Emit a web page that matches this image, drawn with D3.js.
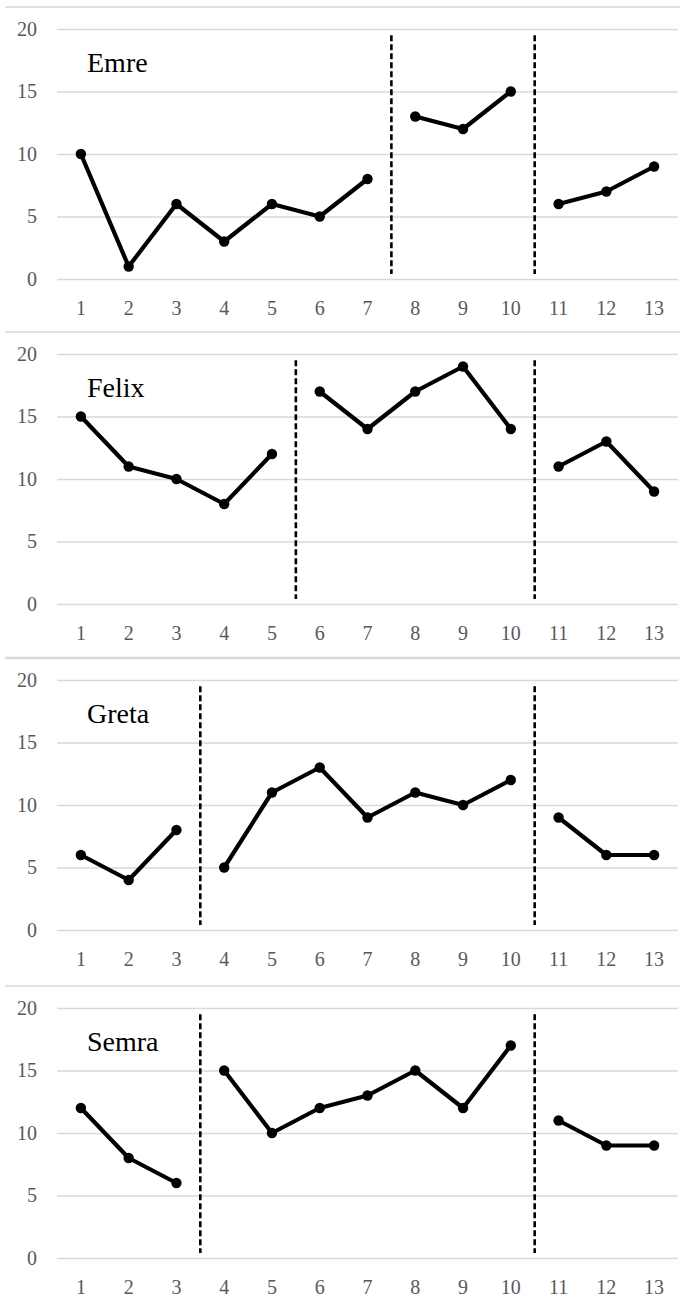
<!DOCTYPE html>
<html>
<head>
<meta charset="utf-8">
<script src="https://cdn.jsdelivr.net/npm/d3@7"></script>
</head>
<body style="margin:0;background:#fff">
<svg id="chart" width="682" height="1299" style="display:block"></svg>
<script>
// ---- data ----
const sessions = ["1","2","3","4","5","6","7","8","9","10","11","12","13"];
const names = ["Emre", "Felix", "Greta", "Semra"];
const emre  = [10, 1, 6, 3, 6, 5, 8, 13, 12, 15, 6, 7, 9];
const felix = [15, 11, 10, 8, 12, 17, 14, 17, 19, 14, 11, 13, 9];
const greta = [6, 4, 8, 5, 11, 13, 9, 11, 10, 12, 9, 6, 6];
const semra = [12, 8, 6, 15, 10, 12, 13, 15, 12, 17, 11, 9, 9];
// last session of each phase before a phase-change line
const emreBreaks  = [7, 10];
const felixBreaks = [5, 10];
const gretaBreaks = [3, 10];
const semraBreaks = [3, 10];
const yTicks = [0, 5, 10, 15, 20];

const seriesList = [emre, felix, greta, semra];
const breaksList = [emreBreaks, felixBreaks, gretaBreaks, semraBreaks];

// ---- layout ----
const svg = d3.select("#chart");
const panelTops = [7, 332, 658, 986];
const gridColor = "#d9d9d9";
const tickColor = "#595959";
const SERIF = '"Liberation Serif"';

const x = d3.scaleBand().domain(sessions).range([57, 678]).padding(0);

// panel separator lines
panelTops.forEach((t, i) => {
  svg.append("line")
    .attr("x1", 5).attr("x2", 680)
    .attr("y1", t).attr("y2", t)
    .attr("stroke", gridColor)
    .attr("stroke-width", i === 2 ? 2.5 : 1.5);
});

names.forEach((name, i) => {
  const top = panelTops[i];
  const y = d3.scaleLinear().domain([0, 20]).range([top + 272, top + 22]);
  const g = svg.append("g");
  const vals = seriesList[i];
  const breaks = breaksList[i];

  // gridlines + y labels
  const yAxis = d3.axisLeft(y).tickValues(yTicks).tickSize(-(678 - 57)).tickPadding(20);
  const ya = g.append("g").attr("transform", "translate(57,0)").call(yAxis)
    .attr("font-family", SERIF).attr("font-size", 20);
  ya.select(".domain").remove();
  ya.selectAll(".tick line").attr("stroke", gridColor).attr("stroke-width", 1.3);
  ya.selectAll(".tick text").attr("fill", tickColor);

  // x labels
  const xAxis = d3.axisBottom(x).tickSize(0).tickPadding(22);
  const xa = g.append("g").attr("transform", `translate(0,${y(0)})`).call(xAxis)
    .attr("font-family", SERIF).attr("font-size", 20);
  xa.select(".domain").remove();
  xa.selectAll(".tick text").attr("fill", tickColor);

  // phase-change lines
  breaks.forEach(b => {
    const bx = x(String(b)) + x.bandwidth();
    g.append("line")
      .attr("x1", bx).attr("x2", bx)
      .attr("y1", y(19.5)).attr("y2", y(0.4))
      .attr("stroke", "#000")
      .attr("stroke-width", 2.6)
      .attr("stroke-dasharray", "6,3");
  });

  // data segments per phase
  const bounds = [0, ...breaks, sessions.length];
  const line = d3.line()
    .x(d => x(d.s) + x.bandwidth() / 2)
    .y(d => y(d.v));
  for (let k = 0; k < bounds.length - 1; k++) {
    const seg = [];
    for (let j = bounds[k]; j < bounds[k + 1]; j++) seg.push({ s: sessions[j], v: vals[j] });
    g.append("path")
      .attr("d", line(seg))
      .attr("fill", "none")
      .attr("stroke", "#000")
      .attr("stroke-width", 4.2)
      .attr("stroke-linejoin", "round");
    g.selectAll(null).data(seg).enter().append("circle")
      .attr("cx", d => x(d.s) + x.bandwidth() / 2)
      .attr("cy", d => y(d.v))
      .attr("r", 5.2)
      .attr("fill", "#000");
  }

  // participant name
  g.append("text")
    .attr("x", 87)
    .attr("y", y(20) + 43)
    .attr("fill", "#000")
    .attr("font-family", SERIF)
    .attr("font-size", 28)
    .text(name);
});
</script>
</body>
</html>
